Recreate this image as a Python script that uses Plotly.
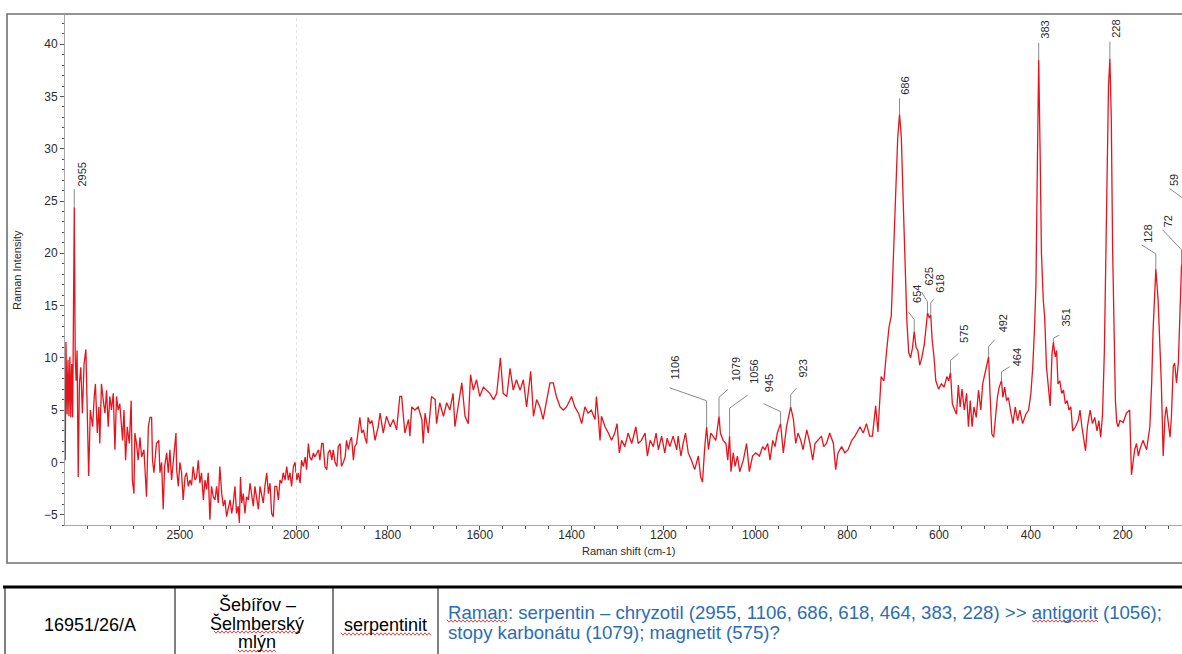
import plotly.graph_objects as go

# ---- Raman spectrum (Raman shift in cm-1, intensity) ----
shift_cm1 = [
    2994, 2991, 2986, 2982, 2978, 2974, 2970, 2966, 2962, 2958, 2955, 2951, 2947, 2943, 2938, 2933,
    2927, 2920, 2913, 2905, 2900, 2893, 2886, 2876, 2869, 2864, 2856, 2849, 2845, 2838, 2830, 2823,
    2816, 2809, 2802, 2795, 2787, 2780, 2773, 2766, 2759, 2747, 2741, 2734, 2727, 2718, 2710, 2705,
    2698, 2694, 2687, 2680, 2672, 2665, 2655, 2644, 2636, 2629, 2622, 2618, 2612, 2606, 2601, 2591,
    2586, 2579, 2572, 2566, 2557, 2550, 2543, 2536, 2529, 2517, 2514, 2507, 2500, 2493, 2486, 2478,
    2471, 2464, 2457, 2450, 2443, 2435, 2428, 2421, 2414, 2407, 2399, 2392, 2385, 2378, 2371, 2364,
    2356, 2349, 2342, 2335, 2328, 2320, 2313, 2306, 2299, 2292, 2284, 2277, 2270, 2263, 2256, 2249,
    2244, 2239, 2234, 2227, 2220, 2213, 2205, 2198, 2191, 2184, 2177, 2170, 2162, 2155, 2148, 2141,
    2134, 2126, 2119, 2112, 2105, 2098, 2091, 2083, 2076, 2069, 2062, 2055, 2047, 2040, 2033, 2026,
    2019, 2011, 2004, 2000,
    1998, 1995, 1991, 1988, 1984, 1980, 1977, 1973, 1970, 1966, 1962, 1959, 1955, 1951, 1948, 1944,
    1941, 1937, 1933, 1930, 1926, 1922, 1919, 1915, 1911, 1908, 1904, 1901, 1897, 1893, 1890, 1886,
    1882, 1879, 1875, 1872, 1868, 1864, 1861, 1857, 1853, 1850, 1846, 1843, 1839, 1835, 1832, 1828,
    1824, 1821, 1817, 1810, 1803, 1795, 1788, 1781, 1774, 1770, 1763, 1755, 1752, 1748, 1741, 1734,
    1726, 1723, 1719, 1712, 1705, 1697, 1694, 1687, 1679, 1672, 1665, 1658, 1654, 1647, 1639, 1632,
    1625, 1620, 1614, 1607, 1600, 1592, 1585, 1578, 1570, 1563, 1555, 1549, 1541, 1534, 1527, 1520,
    1512, 1505, 1498, 1489, 1483, 1476, 1469, 1462, 1454, 1447, 1440, 1433, 1425, 1418, 1411, 1400,
    1393, 1385, 1378, 1371, 1364, 1357, 1349, 1346, 1342, 1338, 1335, 1327, 1320, 1313, 1306, 1301,
    1296, 1291, 1284, 1277, 1269, 1260, 1255, 1248, 1240, 1235, 1229, 1222, 1216, 1211, 1204, 1197,
    1192, 1186, 1179, 1171, 1168, 1162, 1157, 1152, 1146, 1139, 1132, 1124, 1119, 1115, 1110, 1106,
    1102, 1097, 1092, 1086, 1079, 1076, 1070, 1064, 1060, 1056, 1053, 1048, 1044, 1039, 1034, 1026,
    1019, 1013, 1006, 999, 991, 984, 979, 973, 968, 962, 957, 952, 945, 942, 939, 932,
    926, 923, 917, 912, 907, 901, 896, 888, 881, 875, 870, 863, 856, 851, 845, 838,
    830, 825, 820, 812, 805, 798, 790, 783, 772, 765, 758, 751, 745, 738, 733, 726,
    720, 714, 709, 704, 699, 694, 690, 686, 682, 678, 674, 670, 666, 662, 658, 654,
    650, 646, 642, 638, 632, 628, 625, 621, 618, 615, 611, 607, 601, 595, 589, 583,
    579, 575, 571, 566, 562, 558, 554, 550, 545, 540, 536, 532, 528, 524, 519, 514,
    509, 505, 498, 492, 489, 485, 481, 477, 473, 469, 464, 461, 457, 453, 449, 443,
    439, 434, 429, 424, 418, 411, 405, 400, 396, 392, 389, 386, 383, 380, 377, 373,
    370, 366, 362, 358, 354, 351, 347, 344, 341, 337, 333, 329, 325, 321, 317, 313,
    309, 303, 297, 293, 289, 285, 281, 277, 271, 266, 261, 256, 252, 248, 244, 240,
    237, 234, 231, 228, 225, 222, 219, 216, 213, 210, 206, 199, 192, 185, 181, 177,
    174, 170, 166, 163, 156, 148, 141, 137, 134, 130, 128, 123, 119, 116, 112, 108,
    105, 101, 97, 94, 90, 87, 83, 79, 76, 72, 68, 64, 59, 55, 50,
]
intensity = [
    0.2, 11.5, 4.6, 9.8, 4.4, 10.1, 4.3, 9.4, 4.3, 18.0, 24.4, 10.0, 7.8, 10.7, -1.4, 7.5,
    9.1, 4.7, 9.4, 10.8, 5.9, -1.3, 5.0, 3.4, 6.3, 7.5, 2.8, 5.3, 1.8, 7.5, 5.9, 4.7,
    6.9, 3.4, 6.3, 5.0, 6.6, 1.2, 6.3, 5.0, 5.6, 2.1, 5.0, 0.2, 3.4, 1.8, 5.9, -1.7,
    -3.0, 2.8, 1.8, 0.2, 2.4, 0.5, 1.2, -3.3, 3.4, 4.3, 4.3, 0.2, -1.0, 0.9, 1.8, 2.1,
    -1.0, 0.0, -4.5, -0.4, 0.9, -1.0, 1.2, -1.7, 0.2, 2.8, -0.7, -2.3, 0.0, -1.0, -3.6, -1.4,
    -1.0, -2.3, -1.7, -2.2, -0.4, -1.7, -1.4, 0.2, -2.0, -1.0, -3.6, -1.7, -2.6, -1.0, -5.5, -2.3,
    -3.3, -3.6, -2.3, -3.9, -0.4, -3.0, -4.2, -3.6, -5.2, -4.5, -3.6, -4.9, -3.9, -2.3, -4.9, -4.2,
    -5.8, -1.4, -3.9, -3.0, -4.9, -3.3, -3.6, -2.0, -3.0, -4.2, -2.3, -3.6, -4.5, -2.3, -3.0, -3.9,
    -2.3, -1.0, -3.0, -2.0, -4.9, -5.2, -2.3, -2.3, -3.6, -1.7, -2.0, -1.0, -1.7, -0.4, -1.7, -1.0,
    -2.3, -0.4, 0.0, -1.0,
    -1.7, -1.0, -2.0, 0.2, -0.4, 0.5, -0.7, 1.8, 0.5, 0.2, 0.9, 0.5, 0.9, 1.2, 0.2, 1.8,
    1.8, -0.4, -0.7, 0.9, 1.2, 0.2, 1.2, 0.0, -0.4, 1.5, 1.8, -0.4, 0.0, 0.5, 2.1, 1.2,
    2.1, 2.4, 0.2, 1.5, 1.8, 3.4, 4.3, 2.8, 3.1, 2.4, 1.8, 4.3, 3.7, 4.0, 3.4, 2.1,
    2.8, 3.4, 4.7, 2.8, 4.4, 3.4, 4.1, 3.1, 6.3, 6.3, 2.8, 4.1, 2.5, 5.3, 5.0, 5.3,
    4.1, 1.8, 4.7, 2.8, 6.3, 6.0, 3.7, 5.7, 4.4, 5.7, 5.0, 6.6, 3.4, 5.3, 7.6, 4.4,
    3.7, 8.4, 6.9, 7.9, 6.3, 7.2, 6.9, 6.6, 6.0, 6.6, 10.0, 6.6, 6.3, 9.0, 6.9, 7.9,
    6.9, 7.9, 5.3, 8.7, 4.4, 6.0, 5.3, 4.1, 6.0, 7.6, 7.6, 6.3, 5.3, 5.0, 5.3, 6.3,
    5.3, 4.7, 3.7, 5.3, 4.7, 5.0, 4.1, 6.3, 4.4, 2.1, 4.4, 3.4, 2.8, 2.1, 2.8, 3.7,
    0.9, 2.1, 1.5, 2.8, 1.8, 3.4, 1.8, 2.1, 2.8, 0.6, 2.1, 1.5, 2.8, 1.2, 2.5, 0.9,
    2.3, 1.5, 2.5, 1.2, 2.5, 0.6, 1.8, 2.8, 0.9, 0.2, -0.7, 0.6, -1.4, -1.9, 1.5, 3.4,
    1.2, 2.8, 2.5, 2.1, 4.4, 2.8, 2.1, 1.8, 0.2, 2.5, -0.9, 0.9, -0.4, 0.6, -0.9, 0.2,
    1.8, -0.9, 0.6, 0.9, 0.6, 1.5, 1.2, 1.8, 0.2, 2.1, 1.5, 2.8, 3.7, 2.1, 0.9, 3.4,
    4.7, 5.3, 4.1, 1.8, 2.8, 2.1, 1.2, 3.1, 1.8, 0.2, 1.8, 2.1, 2.5, 1.5, 1.8, 2.8,
    1.8, -0.7, 0.9, 1.5, 0.9, 1.2, 2.1, 2.5, 3.4, 2.8, 3.7, 2.5, 2.5, 5.4, 2.9, 8.2,
    7.8, 10.7, 12.9, 14.0, 20.0, 26.0, 31.0, 33.3, 31.0, 25.0, 19.0, 13.5, 10.5, 10.0, 10.9, 12.5,
    11.0, 10.7, 9.3, 9.9, 11.3, 13.3, 14.3, 13.8, 14.1, 11.7, 10.1, 7.8, 7.0, 7.5, 7.2, 8.2,
    7.8, 8.6, 5.6, 5.0, 4.6, 7.4, 5.3, 7.0, 5.0, 6.6, 3.4, 5.9, 3.4, 5.3, 4.3, 6.9,
    5.0, 7.5, 9.1, 10.1, 6.6, 2.7, 2.4, 4.6, 6.2, 7.2, 7.8, 6.2, 7.2, 5.9, 6.2, 4.6,
    3.7, 5.3, 4.0, 5.0, 3.7, 4.6, 5.0, 6.6, 9.1, 12.9, 17.0, 28.0, 38.5, 30.0, 20.0, 15.5,
    13.9, 9.1, 7.2, 5.4, 10.4, 11.5, 10.1, 10.7, 7.5, 7.8, 6.6, 6.9, 5.6, 5.9, 5.0, 5.3,
    3.0, 3.4, 4.0, 5.0, 3.4, 2.1, 1.1, 3.4, 5.0, 3.7, 4.3, 3.0, 4.0, 2.4, 4.6, 10.7,
    20.0, 30.0, 36.0, 38.6, 33.0, 20.3, 10.7, 5.9, 3.8, 3.4, 4.0, 3.8, 4.7, 5.0, -1.2, 0.2,
    1.2, 1.8, 0.6, 1.2, 2.1, 1.2, 3.4, 7.6, 12.6, 16.5, 18.5, 15.5, 10.7, 7.6, 0.6, 4.4,
    5.3, 3.8, 2.4, 4.4, 9.2, 9.5, 7.6, 9.5, 14.1, 18.9, 20.5, 22.5, 23.8, 17.0, 9.0,
]

# Marked peak positions (cm-1)
peak_positions = [2955, 1106, 1079, 1056, 945, 923, 686, 654, 625, 618, 575,
                  492, 464, 383, 351, 228, 128, 72, 59]

# Leader geometry per peak label, in screen pixels relative to the peak top:
# vertical stem length, end of the slanted part (dx, dy), text anchor (dx, dy)
label_geom = {
    2955: (18, 0, -18, 8, -19),
    1106: (26, -37, -39, -32, -45),
    1079: (19, 9, -27, 17, -33),
    1056: (28, 18, -41, 25, -50),
    945: (12, -17, -20, -12, -29),
    923: (12, 6, -19, 12, -27),
    686: (16, 0, -16, 6, -17),
    654: (12, -6, -20, 2, -27),
    625: (11, -6, -21, 1, -25),
    618: (12, 3, -16, 9, -20),
    575: (12, 8, -19, 14, -27),
    492: (10, 6, -17, 14, -22),
    464: (9, 8, -14, 15, -13),
    383: (17, 0, -17, 6, -19),
    351: (4, 6, -7, 13, -14),
    228: (17, 0, -17, 6, -19),
    128: (15, -14, -24, -8, -24),
    72: (15, -19, -35, -14, -35),
    59: (12, -18, -25, -14, -25),
}

# Sample record shown under the chart
table_sample = "16951/26/A"
table_locality = ["Šebířov –", "Šelmberský", "mlýn"]
table_rock = "serpentinit"
table_note = ["Raman: serpentin – chryzotil (2955, 1106, 686, 618, 464, 383, 228) >> antigorit (1056);",
              "stopy karbonátu (1079); magnetit (575)?"]

# ---- layout geometry (pixels) ----
FIG_W, FIG_H = 1182, 654
L, T, R_M, B = 65, 15, 0, 129
PW, PH = FIG_W - L - R_M, FIG_H - T - B
BREAK_PX = 296                      # where the compressed high-shift segment ends
split = (BREAK_PX - L) / PW
X1_RANGE = [2995, 2000]
X2_RANGE = [2000, 71]
Y_RANGE = [-6, 42.8]

FONT = "Liberation Sans, Arial, sans-serif"
TXT = "#2b2b2b"


def fx(px):
    return (px - L) / PW


def fy(py):
    return (T + PH - py) / PH


left_x = [s for s in shift_cm1 if s >= 2000]
left_y = [v for s, v in zip(shift_cm1, intensity) if s >= 2000]
right_x = [s for s in shift_cm1 if s <= 2000]
right_y = [v for s, v in zip(shift_cm1, intensity) if s <= 2000]

line_style = dict(color="#e8141c", width=1.3)
fig = go.Figure()
fig.add_trace(go.Scatter(x=left_x, y=left_y, mode="lines", line=line_style,
                         xaxis="x", yaxis="y", showlegend=False, hoverinfo="skip"))
fig.add_trace(go.Scatter(x=right_x, y=right_y, mode="lines", line=line_style,
                         xaxis="x2", yaxis="y", showlegend=False, hoverinfo="skip"))

shapes = []
annotations = []

# peak labels with leader lines
value_at = dict(zip(shift_cm1, intensity))
for p in peak_positions:
    v, ex, ey, tx, ty = label_geom[p]
    xr = "x" if p > 2000 else "x2"
    yv = value_at[p]
    shapes.append(dict(
        type="path", xref=xr, yref="y", xsizemode="pixel", ysizemode="pixel",
        xanchor=p, yanchor=yv,
        path=f"M0,0 L0,{v} L{ex},{-ey}",
        line=dict(color="#8a8a8a", width=1), layer="above"))
    in_range = X2_RANGE[1] <= p <= X2_RANGE[0] or X1_RANGE[1] <= p <= X1_RANGE[0]
    if in_range:
        annotations.append(dict(
            x=p, y=yv, xref=xr, yref="y", text=str(p), textangle=-90, showarrow=False,
            xanchor="center", yanchor="bottom", xshift=tx, yshift=-ty,
            font=dict(family=FONT, size=11, color=TXT)))
    else:
        # label of a peak just beyond the visible end of the axis
        frac = split + (X2_RANGE[0] - p) / (X2_RANGE[0] - X2_RANGE[1]) * (1 - split)
        annotations.append(dict(
            x=frac, y=yv, xref="paper", yref="y", text=str(p), textangle=-90, showarrow=False,
            xanchor="center", yanchor="bottom", xshift=tx, yshift=-ty,
            font=dict(family=FONT, size=11, color=TXT)))

# axis break marker
shapes.append(dict(type="line", xref="x2", yref="paper", x0=2000, x1=2000, y0=0, y1=1,
                   line=dict(color="#c8c8c8", width=1, dash="dot"), layer="below"))

# chart frame
shapes.append(dict(type="rect", xref="paper", yref="paper",
                   x0=fx(7), x1=fx(1200), y0=fy(563), y1=fy(14),
                   line=dict(color="#6f6f6f", width=1.6)))

# axis titles
annotations.append(dict(x=fx(17), y=fy(270), xref="paper", yref="paper", text="Raman Intensity",
                        textangle=-90, showarrow=False, xanchor="center", yanchor="middle",
                        font=dict(family=FONT, size=11, color=TXT)))
annotations.append(dict(x=fx(629), y=fy(551), xref="paper", yref="paper", text="Raman shift (cm-1)",
                        showarrow=False, xanchor="center", yanchor="middle",
                        font=dict(family=FONT, size=11, color=TXT)))

# ---- record table ----
TAB_TOP = 587
col_edges = [5, 175, 333, 438]
shapes.append(dict(type="line", xref="paper", yref="paper", x0=fx(3), x1=fx(1200),
                   y0=fy(TAB_TOP), y1=fy(TAB_TOP), line=dict(color="#000000", width=3.2)))
for cx in col_edges:
    shapes.append(dict(type="line", xref="paper", yref="paper", x0=fx(cx), x1=fx(cx),
                       y0=fy(TAB_TOP), y1=fy(660), line=dict(color="#000000", width=1)))

cell_font = dict(family=FONT, size=18, color="#000000")


def cell_text(text, px, py, anchor="center", font=cell_font):
    annotations.append(dict(x=fx(px), y=fy(py), xref="paper", yref="paper", text=text,
                            showarrow=False, xanchor=anchor, yanchor="middle", font=font))


cell_text(table_sample, (col_edges[0] + col_edges[1]) / 2, 625)
for line, py in zip(table_locality, [604, 623, 642]):
    cell_text(line, (col_edges[1] + col_edges[2]) / 2 + 3, py)
cell_text(table_rock, (col_edges[2] + col_edges[3]) / 2, 625)
for line, py in zip(table_note, [612, 632]):
    cell_text(line, 446, py, anchor="left", font=dict(family=FONT, size=18.6, color="#2a6db5"))


def wavy(x0, x1, y, step=2.0, amp=1.2):
    pts = []
    x = x0
    k = 0
    while x <= x1:
        yy = y + (amp if k % 2 else -amp)
        pts.append(f"{fx(x):.5f},{fy(yy):.5f}")
        x += step
        k += 1
    return "M" + " L".join(pts)


# spell-check squiggles under a few words
for (ux0, ux1, uy) in [(447, 507, 621), (214, 300, 632), (238, 276, 651), (341, 431, 634), (1032, 1098, 621)]:
    shapes.append(dict(type="path", xref="paper", yref="paper", path=wavy(ux0, ux1, uy),
                       line=dict(color="#e03030", width=0.9)))

axis_common = dict(showgrid=False, zeroline=False, showline=True, linecolor="#a8a8a8", linewidth=1,
                   ticks="outside", ticklen=4, tickcolor="#555555", tickwidth=1,
                   tickfont=dict(family=FONT, size=12, color=TXT))

fig.update_layout(
    width=FIG_W, height=FIG_H,
    margin=dict(l=L, r=R_M, t=T, b=B, pad=0),
    paper_bgcolor="white", plot_bgcolor="white",
    xaxis=dict(domain=[0, split], range=X1_RANGE, anchor="y", tickmode="array", tickvals=[2500],
               ticklabelstandoff=-5,
               minor=dict(tickmode="array", tickvals=[2900, 2800, 2700, 2600, 2400, 2300, 2200, 2100],
                          ticks="outside", ticklen=3, tickcolor="#555555"),
               **axis_common),
    xaxis2=dict(domain=[split, 1], range=X2_RANGE, anchor="y", tickmode="array",
                tickvals=[2000, 1800, 1600, 1400, 1200, 1000, 800, 600, 400, 200],
                ticklabelstandoff=-5,
                minor=dict(tickmode="array", tickvals=[v for v in range(1950, 71, -50) if v % 200],
                           ticks="outside", ticklen=3, tickcolor="#555555"),
                **axis_common),
    yaxis=dict(domain=[0, 1], range=Y_RANGE, anchor="x", tickmode="array",
               tickvals=[-5, 0, 5, 10, 15, 20, 25, 30, 35, 40],
               minor=dict(dtick=1, ticks="outside", ticklen=2, tickcolor="#555555"),
               **axis_common),
    shapes=shapes,
    annotations=annotations,
)

fig.write_html("out.html")
